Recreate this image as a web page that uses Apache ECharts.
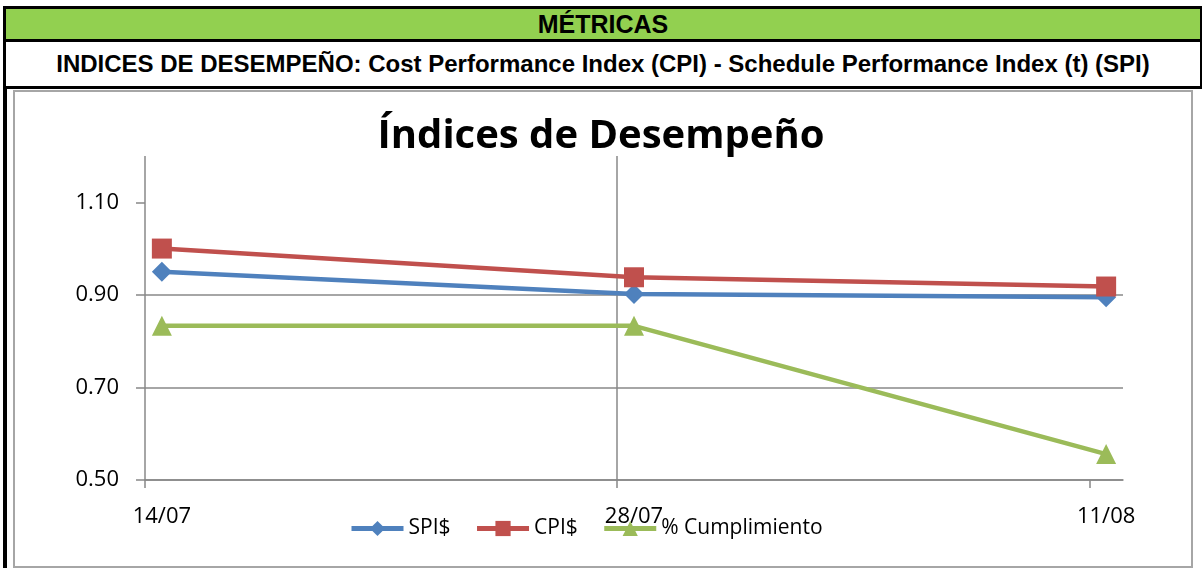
<!DOCTYPE html>
<html>
<head>
<meta charset="utf-8">
<script src="https://cdn.jsdelivr.net/npm/echarts@6/dist/echarts.min.js"></script>
<style>
  body { margin: 0; background: #fff; width: 1202px; height: 568px; position: relative; overflow: hidden; }
  .box { position: absolute; box-sizing: border-box; font-family: "Liberation Sans", Arial, sans-serif; font-weight: bold; color: #000; text-align: center; white-space: nowrap; }
  #head { left: 3px; top: 6px; width: 1199px; height: 36px; background: #92D050; border: 3px solid #000; border-right-width: 2px; font-size: 25px; line-height: 31px; }
  #sub { left: 3px; top: 39px; width: 1199px; height: 50px; border: 3px solid #000; border-right-width: 2px; font-size: 24px; line-height: 44px; }
  #leftbar { left: 3px; top: 86px; width: 4px; height: 482px; background: #000; }
  #frame { left: 13px; top: 90px; width: 1180px; height: 478px; border: 2px solid #a6a6a6; }
  #chart { position: absolute; left: 0; top: 0; width: 1202px; height: 568px; }
</style>
</head>
<body>
<div class="box" id="head">MÉTRICAS</div>
<div class="box" id="sub">INDICES DE DESEMPEÑO: Cost Performance Index (CPI) - Schedule Performance Index (t) (SPI)</div>
<div class="box" id="leftbar"></div>
<div class="box" id="frame"></div>
<div id="chart"></div>
<script>
// fechas del eje y días transcurridos desde 14/07
const dates = ['14/07', '28/07', '11/08']
const dayOffset = [0, 14, 28]
const spi = [0.95, 0.902, 0.895]
const cpi = [1.0, 0.938, 0.918]
const cumplimiento = [0.833, 0.833, 0.556]
const yTicks = [0.5, 0.7, 0.9, 1.1]

const gridColor = '#888888'
const font = '"Open Sans", "Noto Sans", sans-serif'

// cada punto va en el centro de su día
const toPoints = vals => vals.map((v, i) => [dayOffset[i] + 0.5, v])

const makeSeries = (name, vals, color, symbol) => ({
  name: name,
  type: 'line',
  data: toPoints(vals),
  symbol: symbol,
  symbolSize: 20,
  showSymbol: true,
  lineStyle: { width: 4.5, color: color },
  itemStyle: { color: color },
  emphasis: { disabled: true },
  z: 3
})

const chart = echarts.init(document.getElementById('chart'))

chart.setOption({
  animation: false,
  title: {
    text: 'Índices de Desempeño',
    left: 'center',
    top: 112,
    textStyle: { fontFamily: font, fontWeight: 'bold', fontSize: 40, color: '#000' }
  },
  legend: {
    left: 344,
    top: 513,
    itemWidth: 52,
    itemHeight: 19,
    itemGap: 24,
    lineStyle: { width: 5 },
    textStyle: { fontFamily: font, fontSize: 21, color: '#000' },
    data: ['SPI$', 'CPI$', '% Cumplimiento']
  },
  grid: { left: 145, right: 79, top: 156, bottom: 88, containLabel: false },
  xAxis: {
    type: 'value',
    min: 0,
    max: 29,
    interval: 14,
    axisLine: { show: true, lineStyle: { color: gridColor, width: 1.5 } },
    axisTick: { show: true, length: 8, inside: false, customValues: dayOffset, lineStyle: { color: gridColor, width: 1.5 } },
    splitLine: { show: true, showMaxLine: false, lineStyle: { color: gridColor, width: 1.5 } },
    axisLabel: {
      customValues: dayOffset.map(d => d + 0.5),
      formatter: v => dates[dayOffset.indexOf(v - 0.5)] || '',
      margin: 26,
      fontFamily: font,
      fontSize: 22,
      color: '#000'
    }
  },
  yAxis: {
    type: 'value',
    min: 0.5,
    max: 1.2,
    interval: 0.2,
    axisLine: { show: false },
    axisTick: { show: true, length: 9, customValues: yTicks, lineStyle: { color: gridColor, width: 1.5 } },
    splitLine: { show: true, showMaxLine: false, lineStyle: { color: gridColor, width: 1.5 } },
    axisLabel: {
      customValues: yTicks,
      formatter: v => v.toFixed(2),
      margin: 26,
      fontFamily: font,
      fontSize: 22,
      color: '#000'
    }
  },
  series: [
    makeSeries('SPI$', spi, '#4F81BD', 'diamond'),
    makeSeries('CPI$', cpi, '#C0504D', 'rect'),
    makeSeries('% Cumplimiento', cumplimiento, '#9BBB59', 'triangle')
  ]
})
</script>
</body>
</html>
